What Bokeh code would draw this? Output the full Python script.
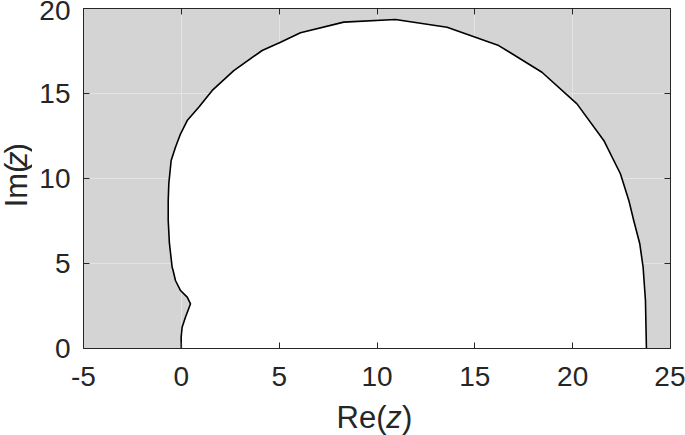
import math
from bokeh.plotting import figure
from bokeh.layouts import row, column
from bokeh.models import LinearAxis, FixedTicker, Label, Range1d, Grid
from bokeh.embed import file_html
from bokeh.resources import INLINE

# Stability-region boundary (Re(z), Im(z))
re_z = [0.00, -0.01, 0.04, 0.21, 0.47, 0.30, -0.04, -0.30, -0.42, -0.47, -0.61, -0.67,
        -0.67, -0.64, -0.52, -0.30, -0.04, 0.30, 0.89, 1.58, 2.68, 4.13, 5.07, 6.09,
        8.30, 10.94, 13.58, 16.22, 18.43, 20.22, 21.59, 22.44, 22.87, 23.12, 23.43,
        23.60, 23.72, 23.77]
im_z = [0.00, 0.66, 1.25, 1.84, 2.63, 3.02, 3.41, 4.00, 4.59, 4.78, 6.20, 7.53,
        8.70, 9.69, 11.06, 11.84, 12.63, 13.41, 14.19, 15.18, 16.35, 17.53, 18.02, 18.57,
        19.20, 19.35, 18.90, 17.82, 16.25, 14.39, 12.24, 10.28, 8.71, 7.53, 6.16,
        4.78, 2.82, 0.00]

x_ticks = [-5, 0, 5, 10, 15, 20, 25]
x_tick_labels = ["-5", "0", "5", "10", "15", "20", "25"]
y_ticks = [0, 5, 10, 15, 20]
y_tick_labels = ["0", "5", "10", "15", "20"]

AX = "#262626"
FONT = "Liberation Sans"

YLAB_W = 32
MAIN_H = 400
TOTAL_W = 685
TOTAL_H = 435

p = figure(width=TOTAL_W - YLAB_W, height=MAIN_H,
           x_range=Range1d(-5, 25), y_range=Range1d(0, 20),
           output_backend="svg", toolbar_location=None,
           x_axis_location=None, y_axis_location=None,
           min_border_left=83 - YLAB_W, min_border_right=15,
           min_border_top=8, min_border_bottom=MAIN_H - 348)
p.background_fill_color = "#d4d4d4"
p.border_fill_color = "white"
p.outline_line_color = None


def make_axis(ticks, labels, standoff):
    ax = LinearAxis(ticker=FixedTicker(ticks=ticks),
                    major_tick_in=6, major_tick_out=0,
                    minor_tick_in=0, minor_tick_out=0,
                    axis_line_color=AX, axis_line_width=1,
                    major_tick_line_color=AX, major_tick_line_width=1,
                    major_label_text_font=FONT,
                    major_label_text_font_size="28px",
                    major_label_text_color=AX,
                    major_label_standoff=standoff)
    if labels is None:
        ax.major_label_overrides = {t: "" for t in ticks}
        ax.major_label_standoff = 0
        ax.major_label_text_font_size = "1px"
    else:
        ax.major_label_overrides = {t: s for t, s in zip(ticks, labels)}
    return ax


p.add_layout(make_axis(x_ticks, x_tick_labels, 18), "below")
p.add_layout(make_axis(y_ticks, y_tick_labels, 13), "left")
p.add_layout(make_axis(x_ticks, None, 0), "above")
p.add_layout(make_axis(y_ticks, None, 0), "right")

p.add_layout(Grid(dimension=0, ticker=FixedTicker(ticks=x_ticks),
                  grid_line_color="#e4e4e4", grid_line_width=1))
p.add_layout(Grid(dimension=1, ticker=FixedTicker(ticks=y_ticks),
                  grid_line_color="#e4e4e4", grid_line_width=1))

p.patch(re_z, im_z, fill_color="white", line_color=None)
p.line(re_z, im_z, line_color="black", line_width=1.6)

common = dict(text_font=FONT, text_font_size="31px", text_color=AX,
              text_baseline="middle", text_align="center")


def blank_panel(w, h):
    f = figure(width=w, height=h, x_range=Range1d(0, w), y_range=Range1d(0, h),
               output_backend="svg", toolbar_location=None,
               x_axis_location=None, y_axis_location=None, min_border=0)
    f.outline_line_color = None
    for g in f.select(type=Grid):
        g.visible = False
    return f


# y-axis title panel (pixel coordinates, y up)
ylab = blank_panel(YLAB_W, MAIN_H)
yl_x = 16
ylab.add_layout(Label(x=yl_x, y=MAIN_H - 207.6, text="Im(", angle=math.pi / 2, **common))
ylab.add_layout(Label(x=yl_x, y=MAIN_H - 177.4, text="z", angle=math.pi / 2,
                      text_font_style="italic", **common))
ylab.add_layout(Label(x=yl_x, y=MAIN_H - 164.5, text=")", angle=math.pi / 2, **common))

# x-axis title panel
XLAB_H = TOTAL_H - MAIN_H
xlab = blank_panel(TOTAL_W, XLAB_H)
xl_y = XLAB_H - (417.3 - MAIN_H)
xlab.add_layout(Label(x=361.0, y=xl_y, text="Re(", **common))
xlab.add_layout(Label(x=393.6, y=xl_y, text="z", text_font_style="italic", **common))
xlab.add_layout(Label(x=406.6, y=xl_y, text=")", **common))

layout = column(row(ylab, p, spacing=0), xlab, spacing=0)
open("out.html", "w").write(file_html(layout, INLINE))
